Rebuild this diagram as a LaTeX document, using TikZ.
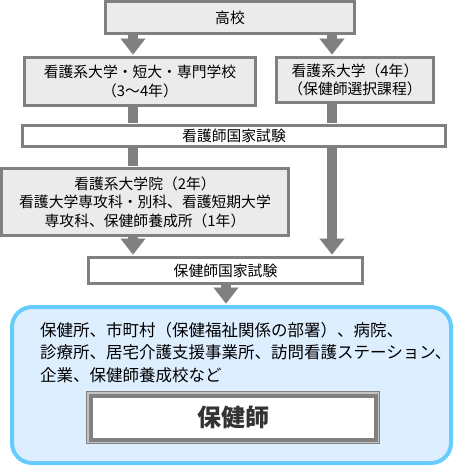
\documentclass[tikz,border=0pt]{standalone}
\usepackage{fontspec}
\setmainfont{Noto Sans CJK JP}
\usetikzlibrary{positioning,arrows.meta}
\definecolor{edgegray}{HTML}{808080}
\definecolor{boxgray}{HTML}{EBEBEB}
\definecolor{litegray}{HTML}{C4C4C4}
\definecolor{skyedge}{HTML}{66CCFF}
\definecolor{skyfill}{HTML}{DDEEFF}
\definecolor{textdark}{HTML}{333333}
\def\body{\fontsize{14.8pt}{18.5pt}\selectfont}

\begin{document}
\begin{tikzpicture}[>={Triangle[width=25pt,length=16pt,line width=0.1pt]}, stage/.style={draw=edgegray, line width=3pt, fill=boxgray, align=center, inner sep=0pt, font=\body}, exam/.style={stage, fill=white}, link/.style={draw=edgegray, line width=10pt, shorten >=1.5pt}, career/.style={draw=skyedge, fill=skyfill, line width=4pt, rounded corners=20pt, inner sep=0pt}, qual/.style={preaction={draw=edgegray, line width=9pt}, preaction={draw=litegray, line width=7pt}, draw=edgegray, line width=4pt, fill=white, inner sep=0pt, text=textdark, font=\fontsize{24pt}{24pt}\selectfont\bfseries}]
\useasboundingbox (0pt, 0pt) rectangle (473pt, -467pt);
\coordinate (lx) at (133.0pt, 0.0pt);
\coordinate (rx) at (332.0pt, 0.0pt);
\coordinate (mx) at (226.0pt, 0.0pt);
\draw (230.0pt, -17.5pt)node[stage, minimum width=249pt, minimum height=32pt](hs){高校};
\draw (140.0pt, -81.5pt)node[stage, minimum width=231pt, minimum height=48pt](ls){看護系大学・短大・専門学校\\（3～4年）};
\draw (355.0pt, -80.0pt)node[stage, minimum width=157pt, minimum height=45pt](rs){看護系大学（4年）\\（保健師選択課程）};
\draw (234.0pt, -136.0pt)node[exam, minimum width=423pt, minimum height=21pt](nexam){看護師国家試験};
\draw (145.0pt, -202.0pt)node[stage, minimum width=287pt, minimum height=67pt](gs){看護系大学院（2年）\\看護大学専攻科・別科、看護短期大学\\専攻科、保健師養成所（1年）};
\draw (225.5pt, -270.5pt)node[exam, minimum width=274pt, minimum height=26pt](pexam){保健師国家試験};
\draw (231.5pt, -385.0pt)node[career, minimum width=439pt, minimum height=156pt](work){};
\draw (40.0pt, -352.5pt)node[anchor=west, align=left, inner sep=0pt, font=\fontsize{16.5pt}{22.5pt}\selectfont](place){保健所、市町村（保健福祉関係の部署）、病院、\\診療所、居宅介護支援事業所、訪問看護ステーション、\\企業、保健師養成校など};
\draw (233.0pt, -417.5pt)node[qual, minimum width=285pt, minimum height=44pt](phn){保健師};
\draw[link, ->] (hs.south -| lx) -- (ls.north -| lx);
\draw[link, ->] (hs.south -| rx) -- (rs.north -| rx);
\draw[link] (ls.south -| lx) -- (nexam.north -| lx);
\draw[link] (rs.south -| rx) -- (nexam.north -| rx);
\draw[link] (nexam.south -| lx) -- (gs.north -| lx);
\draw[link, ->] (gs.south -| lx) -- (pexam.north -| lx);
\draw[link, ->] (nexam.south -| rx) -- (pexam.north -| rx);
\draw[link, ->] (pexam.south -| mx) -- (work.north -| mx);
\end{tikzpicture}
\end{document}
